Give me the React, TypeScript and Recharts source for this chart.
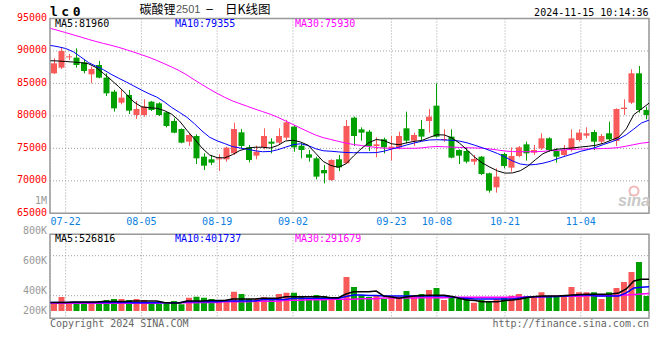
import React from 'react';
import { ComposedChart, Bar, Line, XAxis, YAxis, CartesianGrid, ReferenceArea, Cell } from 'recharts';

// ---- data ----
const openP = [86556,87429,89100,88968,88250,86402,87839,85889,83733,82039,
  83219,80140,80140,82193,81936,80550,79216,77984,76033,76906,
  73723,73313,73364,73313,74237,77471,75160,73878,75160,76033,
  75879,76649,78343,75417,74083,73467,71670,70130,73313,72697,
  79729,77932,77573,75366,76393,75006,75160,78086,76187,77984,
  79216,81577,76289,76804,74751,74597,72953,73723,71157,69001,
  74134,72030,73826,75623,74340,75006,76547,74597,73980,74751,
  76290,76957,77522,76033,77317,76136,81064,82039,86556,80910];
const highP = [88866,90560,89533,90406,88712,87583,88455,86556,83989,84092,
  83989,82296,82553,82296,82090,80653,79627,78086,77317,77163,
  74237,73980,74083,75263,78959,77984,75520,75417,78086,76547,
  78086,79370,78600,75776,74751,73723,72440,73313,73980,79370,
  79883,78240,77830,76701,76649,76906,77573,80653,77419,79370,
  81064,85016,77932,77932,74853,75160,73980,73826,71259,71927,
  74340,75160,75366,76033,75520,77317,76701,75006,75520,77932,
  77932,78240,77830,77214,79113,81166,82552,87172,87685,81423];
const lowP = [86450,87223,88609,87429,86556,85016,85786,83065,80653,81783,
  80294,79524,79883,80756,79986,78240,77317,75776,75366,72594,
  71670,72440,71516,72953,73980,75006,72851,73313,74853,74237,
  75520,76290,74494,73467,72953,70233,69617,69976,71516,72594,
  75366,76187,74597,73621,74237,73108,74853,75776,75366,76187,
  77419,76650,76033,73467,72594,72697,72440,70900,68180,68180,
  71927,71413,73621,73108,73980,74751,74494,72799,73723,74494,
  76033,76547,74751,75776,76187,75366,80140,81834,80499,79473];
const closeP = [88096,89995,89174,87839,86915,87223,85889,83476,81167,82809,
  80807,81064,81423,80910,80140,78446,77419,75879,77060,73467,
  72337,72799,73467,75109,77984,75366,73211,74494,76906,75725,
  76906,79010,75160,74751,73570,70644,71157,73211,72081,78446,
  76906,77419,75366,75623,75160,75263,76906,76187,77060,76804,
  79883,76804,76443,73570,73878,72953,73364,71054,68488,70644,
  72286,73826,75160,74237,74751,76547,74751,73723,74751,76547,
  77419,77317,76033,76906,76393,81064,81269,86556,80910,80140];
const volume = [127820,232400,127820,144420,136120,144420,127820,182600,199200,199200,
  182600,199200,182600,144420,116200,144420,166000,112880,219120,235720,
  220780,199200,177620,177620,318720,282200,199200,199200,229080,212480,
  282200,302120,302120,249000,199200,265600,249000,199200,187580,564400,
  398400,260620,232400,260620,199200,249000,232400,332000,232400,282200,
  348600,381800,182600,249000,199200,199200,137780,182600,166000,199200,
  219120,252320,282200,249000,249000,312080,232400,232400,262280,398400,
  312080,312080,312080,199200,312080,381800,481400,647400,813400,249000];
const ma5 = [88500,88455,88378,88294,88201,88032,87454,86530,85545,84505,
  83373,82141,81410,81256,81179,80832,80255,79254,77791,76443,
  75057,73979,73571,73533,74018,74672,75019,75173,75173,75057,
  75442,76135,76251,75981,75481,74249,72978,72362,72077,72616,
  73825,74942,75866,76366,76212,75712,75558,75850,76081,76212,
  76674,77098,77059,76597,75789,74749,73633,72747,72108,71531,
  71184,71222,71554,72247,73248,74172,74672,74888,74980,75073,
  75211,75327,75481,75789,76251,76713,78000,80200,81063,81960];
const ma10 = [90850,90650,90380,89880,89071,88224,87647,87108,86415,85799,
  85221,84605,83989,83412,82911,82180,81294,80563,79793,78792,
  77675,76713,76158,75735,75288,75057,74865,74634,74480,74518,
  74788,75173,75558,75712,75442,74942,74634,74557,74457,74364,
  74333,74333,74333,74349,74557,74880,75188,75519,75827,76097,
  76289,76328,76289,76251,76120,75850,75481,75096,74672,74210,
  73671,73055,72593,72439,72516,72709,73017,73440,73825,74172,
  74557,74826,75173,75596,75981,76443,77098,77983,78900,79355];
const ma30 = [93480,93160,92829,92490,92144,91790,91458,91158,90873,90557,
  90203,89818,89425,89025,88555,88047,87524,86969,86299,85545,
  84829,84120,83466,82857,82318,81887,81471,81055,80663,80263,
  79785,79238,78684,78122,77575,77052,76651,76366,76081,75812,
  75596,75442,75288,75134,75034,75011,75011,75011,75011,75073,
  75211,75288,75250,75188,75142,75096,75065,75019,74903,74749,
  74595,74503,74487,74487,74487,74541,74634,74711,74788,74849,
  74888,74919,74950,74980,75026,75134,75342,75573,75800,75930];
const vma5 = [141100,141100,141100,149400,149400,149400,149400,157700,157700,157700,
  157700,166000,166000,166000,166000,140000,132800,132800,166000,166000,
  166000,174300,174300,174300,199200,199200,199200,199200,210800,210800,
  210800,237400,237400,237400,237400,237400,237400,220800,220800,282200,
  320400,320400,320400,332000,249000,232400,210800,232400,249000,257300,
  260600,260600,260600,240700,207500,182600,174300,154400,154400,154400,
  174300,182600,199200,224100,240700,249000,249000,249000,257300,265600,
  273900,277200,277200,277200,282000,298800,365200,498000,526000,526816];
const vma10 = [141100,141100,141100,141100,141100,141100,141100,141100,141100,141100,
  141100,137780,137780,137780,137780,137780,137780,137780,154400,154400,
  154400,154400,154400,166000,166000,166000,166000,166000,190900,190900,
  190900,190900,210800,210800,210800,210800,210800,210800,210800,240700,
  265600,265600,257300,257300,249000,249000,249000,249000,249000,249000,
  249000,249000,249000,232400,215800,207500,199200,199200,199200,199200,
  199200,199200,215800,232400,237400,237400,237400,240700,249000,257300,
  265600,265600,250000,250000,250000,250000,300000,381800,393400,401737];
const vma30 = [127800,127800,127800,127800,127800,127800,127800,127800,127800,127800,
  130000,130000,130000,130000,130000,137800,137800,137800,137800,137800,
  142000,142000,142000,152000,152000,152000,152000,160000,160000,160000,
  160000,178000,178000,178000,185000,185000,185000,196000,196000,196000,
  196000,202000,202000,202000,215000,215000,215000,215000,215000,222000,
  222000,222000,222000,227000,227000,227000,227000,227000,227000,227000,
  227000,232000,232000,232000,232000,232000,245000,245000,245000,245000,
  245000,252000,252000,252000,252000,258000,266000,274000,282000,291679];

const dateLabels = ['07-22', '08-05', '08-19', '09-02', '09-23', '10-08', '10-21', '11-04'];
const dateIndex = [2, 12, 22, 32, 45, 51, 60, 70];
const priceTicks = [65000, 70000, 75000, 80000, 85000, 90000, 95000];
const volumeAxisLabels = ['1M', '800K', '600K', '400K', '200K'];

const rows = openP.map((o, i) => ({
  i, open: o, high: highP[i], low: lowP[i], close: closeP[i], vol: volume[i],
  ma5: ma5[i], ma10: ma10[i], ma30: ma30[i], vma5: vma5[i], vma10: vma10[i], vma30: vma30[i],
  up: closeP[i] >= o,
}));
const allIdx = rows.map((r) => r.i);

// ---- styles ----
const RED = '#F85A5A';
const GREEN = '#00A000';
const GRID = '#A0A0A0';
const FRAME = '#999999';
const MONO = '"DejaVu Sans Mono", monospace';
const C_DOMAIN: [number, number] = [-0.5, 79.37];
const G_DOMAIN: [number, number] = [-0.066, 79];

function Candle(props: any) {
  const { x, y, width, height, payload } = props;
  if (!payload) return null;
  const { open, close, high, low } = payload;
  const top = Math.min(y, y + height);
  const h = Math.abs(height);
  const k = high > low ? h / (high - low) : 0;
  const yOf = (v: number) => top + (high - v) * k;
  const color = close >= open ? RED : GREEN;
  const cx = Math.round(x + width / 2) + 0.5;
  const bTop = yOf(Math.max(open, close));
  const bH = Math.max(1, Math.abs(yOf(open) - yOf(close)));
  return (
    <g>
      <line x1={cx} x2={cx} y1={top} y2={top + h} stroke={color} strokeWidth={1} />
      <rect x={x} y={bTop} width={width} height={bH} fill={color} />
    </g>
  );
}

function PriceTick(props: any) {
  const { x, y, payload } = props;
  return (
    <text x={x} y={y + 2.2} textAnchor="end" fill="#FF0000" fontSize={10} fontFamily={MONO}>
      {payload.value}
    </text>
  );
}

function DateTick(props: any) {
  const { x, y, payload } = props;
  const k = dateIndex.indexOf(payload.value);
  return (
    <text x={x} y={y + 11.7} textAnchor="middle" fill="#0A7FDF" fontSize={10} fontFamily={MONO}>
      {dateLabels[k]}
    </text>
  );
}

export default function App() {
  return (
    <div style={{ position: 'absolute', left: 0, top: 0, width: 660, height: 360, background: '#fff', overflow: 'hidden' }}>
      <div style={{ position: 'absolute', left: 0, top: 0 }}>
        <ComposedChart width={660} height={230} data={rows} margin={{ top: 18.5, right: 11, bottom: 0, left: 0 }}>
          <XAxis xAxisId="g" dataKey="i" type="number" domain={G_DOMAIN} allowDataOverflow ticks={dateIndex}
            tick={(p: any) => <DateTick {...p} />} height={16.7} axisLine={false} tickLine={false} tickSize={0} tickMargin={0} interval={0} />
          <XAxis xAxisId="c" dataKey="i" type="number" domain={C_DOMAIN} allowDataOverflow hide height={0} ticks={allIdx} />
          <YAxis type="number" domain={[65000, 95000]} allowDataOverflow ticks={priceTicks} tick={(p: any) => <PriceTick {...p} />}
            width={50} axisLine={false} tickLine={false} tickSize={0} tickMargin={3} interval={0} />
          <CartesianGrid xAxisId="g" stroke={GRID} strokeDasharray="1 2" />
          <Bar xAxisId="c" dataKey={(d: any) => [d.low, d.high]} barSize={6} isAnimationActive={false}
            shape={(p: any) => <Candle {...p} />} />
          <Line xAxisId="g" dataKey="ma30" stroke="#FF00FF" strokeWidth={1} dot={false} isAnimationActive={false} />
          <Line xAxisId="g" dataKey="ma10" stroke="#0000FF" strokeWidth={1} dot={false} isAnimationActive={false} />
          <Line xAxisId="g" dataKey="ma5" stroke="#000000" strokeWidth={1} dot={false} isAnimationActive={false} />
          <ReferenceArea xAxisId="c" x1={C_DOMAIN[0]} x2={C_DOMAIN[1]} y1={65000} y2={95000}
            fill="none" fillOpacity={0} stroke={FRAME} strokeWidth={1.5} ifOverflow="visible" />
        </ComposedChart>
      </div>
      <div style={{ position: 'absolute', left: 0, top: 220 }}>
        <ComposedChart width={660} height={100} data={rows} margin={{ top: 14.3, right: 11, bottom: 1.7, left: 50 }}>
          <XAxis xAxisId="c" dataKey="i" type="number" domain={C_DOMAIN} allowDataOverflow hide height={0} ticks={allIdx} />
          <XAxis xAxisId="g" dataKey="i" type="number" domain={G_DOMAIN} allowDataOverflow hide height={0} ticks={dateIndex} />
          <YAxis yAxisId="v" type="number" domain={[-121000, 1273000]} allowDataOverflow hide width={0} />
          <YAxis yAxisId="q" type="number" domain={[-0.13, 4.07]} ticks={[1, 2, 3]} allowDataOverflow hide width={0} />
          <CartesianGrid xAxisId="g" yAxisId="q" stroke={GRID} strokeDasharray="1 2" />
          <Bar xAxisId="c" yAxisId="v" dataKey="vol" barSize={6} isAnimationActive={false}>
            {rows.map((r) => (
              <Cell key={r.i} fill={r.up ? RED : GREEN} />
            ))}
          </Bar>
          <Line xAxisId="g" yAxisId="v" dataKey="vma30" stroke="#FF00FF" strokeWidth={1.5} dot={false} isAnimationActive={false} />
          <Line xAxisId="g" yAxisId="v" dataKey="vma10" stroke="#0000FF" strokeWidth={1.5} dot={false} isAnimationActive={false} />
          <Line xAxisId="g" yAxisId="v" dataKey="vma5" stroke="#000000" strokeWidth={1.5} dot={false} isAnimationActive={false} />
          <ReferenceArea xAxisId="c" yAxisId="v" x1={C_DOMAIN[0]} x2={C_DOMAIN[1]} y1={-121000} y2={1273000}
            fill="none" fillOpacity={0} stroke={FRAME} strokeWidth={1.5} ifOverflow="visible" />
        </ComposedChart>
      </div>
      <svg width={660} height={360} style={{ position: 'absolute', left: 0, top: 0, pointerEvents: 'none' }}>
        <text x={50} y={16} fontFamily={MONO} fontWeight="bold" fontSize={13} letterSpacing={3.5} fill="#000">lc0</text>
        <text x={139.5} y={13.5} fontFamily='"Noto Sans CJK SC"' fontSize={12} fill="#000">碳酸锂</text>
        <text x={176} y={13.3} fontFamily='"Liberation Sans"' fontSize={11} fill="#555">2501</text>
        <text x={209.5} y={13.3} textAnchor="middle" fontFamily='"Liberation Sans"' fontSize={12} fill="#000">–</text>
        <text x={225} y={13.5} fontFamily='"Noto Sans CJK SC"' fontSize={12.5} fill="#000">日K线图</text>
        <text x={648.5} y={16} textAnchor="end" fontFamily={MONO} fontSize={10} fill="#000">2024-11-15 10:14:36</text>

        <text x={55} y={27.3} fontFamily={MONO} fontSize={10} fill="#000">{`MA5:${ma5[ma5.length - 1]}`}</text>
        <text x={175} y={27.3} fontFamily={MONO} fontSize={10} fill="#0000FF">{`MA10:${ma10[ma10.length - 1]}`}</text>
        <text x={295} y={27.3} fontFamily={MONO} fontSize={10} fill="#FF00FF">{`MA30:${ma30[ma30.length - 1]}`}</text>

        <text x={55} y={242} fontFamily={MONO} fontSize={10} fill="#000">{`MA5:${vma5[vma5.length - 1]}`}</text>
        <text x={175} y={242} fontFamily={MONO} fontSize={10} fill="#0000FF">{`MA10:${vma10[vma10.length - 1]}`}</text>
        <text x={295} y={242} fontFamily={MONO} fontSize={10} fill="#FF00FF">{`MA30:${vma30[vma30.length - 1]}`}</text>

        <text x={47} y={204.3} textAnchor="end" fontFamily={MONO} fontSize={10} fill="#999">{volumeAxisLabels[0]}</text>
        <text x={47} y={234.3} textAnchor="end" fontFamily={MONO} fontSize={10} fill="#999">{volumeAxisLabels[1]}</text>
        <text x={47} y={264.3} textAnchor="end" fontFamily={MONO} fontSize={10} fill="#999">{volumeAxisLabels[2]}</text>
        <text x={47} y={294.3} textAnchor="end" fontFamily={MONO} fontSize={10} fill="#999">{volumeAxisLabels[3]}</text>
        <text x={47} y={314} textAnchor="end" fontFamily={MONO} fontSize={10} fill="#999">{volumeAxisLabels[4]}</text>

        <text x={50} y={327} fontFamily={MONO} fontSize={10} fill="#666">Copyright 2024 SINA.COM</text>
        <text x={649} y={327} textAnchor="end" fontFamily={MONO} fontSize={10} fill="#666">http://finance.sina.com.cn</text>

        <circle cx={634} cy={191} r={4.5} fill="none" stroke="#F2B8B8" strokeWidth={2} />
        <text x={618} y={206} fontFamily='"Liberation Sans"' fontStyle="italic" fontWeight="bold" fontSize={16} fill="#C8C8C8">sina</text>
      </svg>
    </div>
  );
}
